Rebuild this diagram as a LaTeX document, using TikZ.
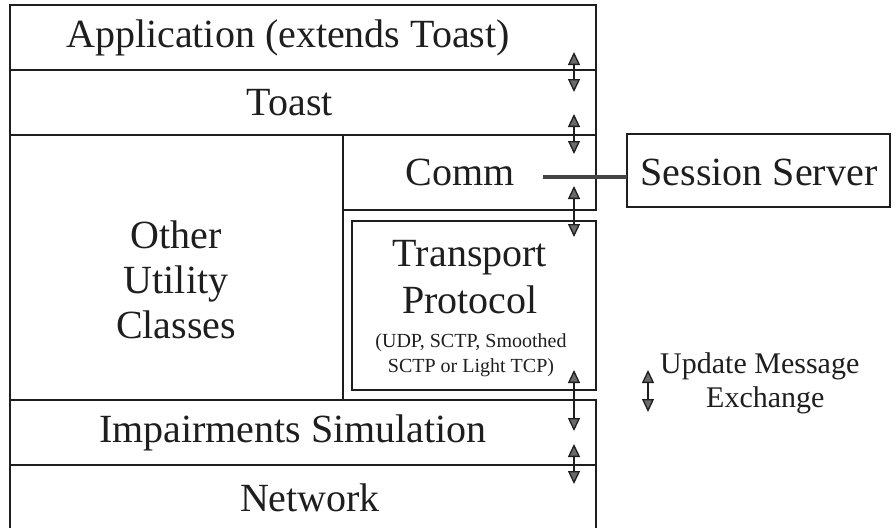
\documentclass[tikz,border=0pt]{standalone}
\usepackage{fontspec}
\setmainfont{Liberation Serif}
\usetikzlibrary{arrows.meta}

\definecolor{ink}{HTML}{1E1E1E}
\definecolor{hatch}{HTML}{6A6A6A}
\definecolor{linkgrey}{HTML}{444444}

\tikzset{
  box/.style={draw=ink, line width=1.6pt, rectangle, inner sep=0pt, outer sep=0pt, anchor=north west},
  bigtxt/.style={text=ink, inner sep=0pt, font=\fontsize{40}{46}\selectfont, align=center},
  smalltxt/.style={text=ink, inner sep=0pt, font=\fontsize{20}{25}\selectfont, align=center},
  legtxt/.style={text=ink, inner sep=0pt, font=\fontsize{30}{32}\selectfont},
  xchg/.style={draw=ink, line width=1.3pt,
    {Triangle[width=12pt,length=13pt,fill=hatch]}-{Triangle[width=12pt,length=13pt,fill=hatch]}},
  link/.style={draw=linkgrey, line width=4pt}
}

\begin{document}
\begin{tikzpicture}[x=1pt, y=-1pt]
  \useasboundingbox (0,0) rectangle (896,527);
  \clip (0,0) rectangle (896,527);

  % protocol stack layers
  \node[box, minimum width=586pt, minimum height=65pt]  (app)   at (10,5)   {};
  \node[box, minimum width=586pt, minimum height=65pt]  (toast) at (10,70)  {};
  \node[box, minimum width=333pt, minimum height=265pt] (other) at (10,135) {};
  \node[box, minimum width=253pt, minimum height=75pt]  (comm)  at (343,135) {};
  \node[box, minimum width=244pt, minimum height=169pt] (trans) at (352,221) {};
  \node[box, minimum width=586pt, minimum height=65pt]  (imp)   at (10,400) {};
  \node[box, minimum width=586pt, minimum height=80pt]  (net)   at (10,465) {};
  \node[box, minimum width=263pt, minimum height=73pt]  (sess)  at (627,134) {};

  % layer names
  \node[bigtxt] (tapp)   at (288,38)  {Application (extends Toast)};
  \node[bigtxt] (ttoast) at (290,103) {Toast};
  \node[bigtxt] (tcomm)  at (460,172) {Comm};
  \node[bigtxt] (tsess)  at (759,172) {Session Server};
  \node[bigtxt, font=\fontsize{40}{45}\selectfont] (tother) at (176,280) {Other\\Utility\\Classes};
  \node[bigtxt, font=\fontsize{40}{47}\selectfont] (ttrans) at (470,277) {Transport\\Protocol};
  \node[smalltxt] (tproto) at (471,355) {(UDP, SCTP, Smoothed\\SCTP or Light TCP)};
  \node[bigtxt] (timp)   at (293,433) {Impairments Simulation};
  \node[bigtxt] (tnet)   at (310,498) {Network};

  % Comm <-> Session Server link
  \coordinate (commport) at (543,177);
  \draw[link] (commport) -- (sess.west |- commport);

  % update message exchange between adjacent layers
  \coordinate (a1) at (574,52);  \coordinate (b1) at (574,92);
  \coordinate (a2) at (574,114); \coordinate (b2) at (574,154);
  \coordinate (a3) at (574,186); \coordinate (b3) at (574,237);
  \coordinate (a4) at (574,370); \coordinate (b4) at (574,431);
  \coordinate (a5) at (574,444); \coordinate (b5) at (574,484);
  \draw[xchg] (a1) -- (b1);
  \draw[xchg] (a2) -- (b2);
  \draw[xchg] (a3) -- (b3);
  \draw[xchg] (a4) -- (b4);
  \draw[xchg] (a5) -- (b5);

  % legend
  \coordinate (la) at (648,370); \coordinate (lb) at (648,412);
  \draw[xchg] (la) -- (lb);
  \node[legtxt, anchor=base west] (l1) at (660,373) {Update Message};
  \node[legtxt, anchor=base west] (l2) at (706,407) {Exchange};
\end{tikzpicture}
\end{document}
